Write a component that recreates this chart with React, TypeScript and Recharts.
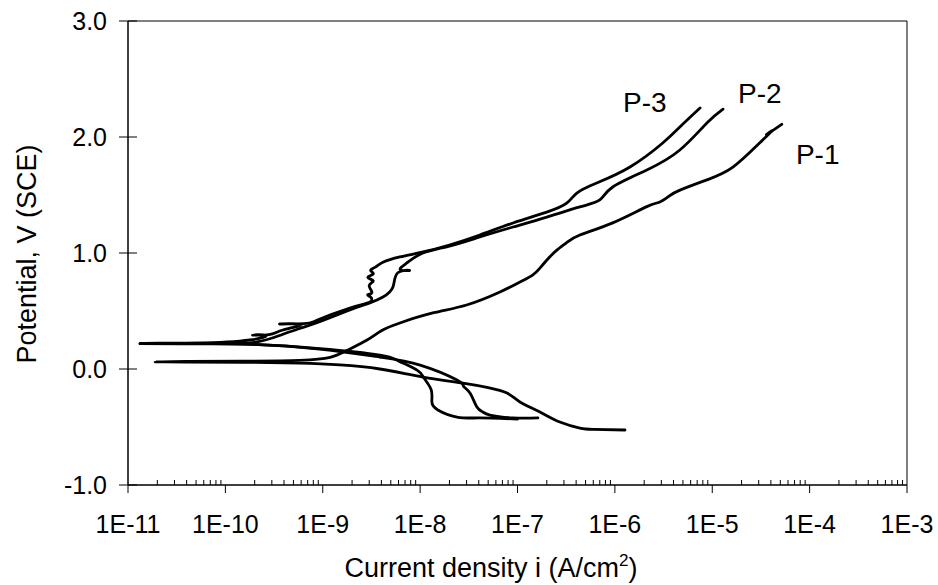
import React from "react";
import { ScatterChart, Scatter, XAxis, YAxis, ReferenceArea, ReferenceDot } from "recharts";

// ---- axis ticks ----
const xMajorTicks = [1e-11, 1e-10, 1e-9, 1e-8, 1e-7, 1e-6, 1e-5, 1e-4, 1e-3];
const xMajorLabels = ["1E-11", "1E-10", "1E-9", "1E-8", "1E-7", "1E-6", "1E-5", "1E-4", "1E-3"];
const minorMultipliers = [2, 3, 4, 5, 6, 7, 8, 9];
const yTicks = [-1, 0, 1, 2, 3];
const yTickLabels = ["-1.0", "0.0", "1.0", "2.0", "3.0"];

// ---- series: current density (A/cm2) and potential (V SCE), in scan order ----
const p1Current = [
  1.27e-6, 6.0e-7, 4.37e-7, 2.72e-7, 1.7e-7, 1.06e-7, 7.8e-8, 5.0e-8, 2.75e-8, 1.07e-8, 3.86e-9, 1.5e-9, 5.8e-10, 1.5e-10, 4e-11, 1.9e-11,
  4e-11, 1.5e-10, 5.8e-10, 1.19e-9, 1.77e-9, 2.85e-9, 4.0e-9, 6.2e-9, 1.35e-8, 3.0e-8, 6.6e-8, 1.06e-7, 1.43e-7, 1.7e-7, 2.06e-7,
  2.5e-7, 3.2e-7, 4.37e-7, 9.5e-7, 2.13e-6, 2.9e-6, 3.6e-6, 4.6e-6, 8.8e-6, 1.63e-5, 3.08e-5, 4.19e-5, 3.6e-5, 5.18e-5,
];
const p1Potential = [
  -0.526, -0.52, -0.509, -0.457, -0.371, -0.284, -0.207, -0.16, -0.121, -0.069, 0.0, 0.035, 0.05, 0.058, 0.06, 0.062,
  0.066, 0.068, 0.075, 0.1, 0.16, 0.25, 0.33, 0.397, 0.483, 0.552, 0.664, 0.75, 0.81, 0.87, 0.95,
  1.02, 1.09, 1.155, 1.26, 1.4, 1.44, 1.49, 1.54, 1.63, 1.74, 1.95, 2.06, 2.02, 2.11,
];

const p2Current = [
  1.62e-7, 9e-8, 5.2e-8, 4.4e-8, 3.83e-8, 3.25e-8, 2.8e-8, 2.39e-8, 1.0e-8, 3.86e-9, 9.3e-10, 1.9e-10, 5e-11, 1.33e-11,
  5e-11, 1.9e-10, 3.9e-10, 8.7e-10, 1.9e-9, 3.05e-9, 4.15e-9, 5.26e-9, 5.9e-9, 7.8e-9, 6.3e-9, 7.3e-9, 1.07e-8, 2.0e-8,
  4.1e-8, 9e-8, 2e-7, 4.37e-7, 7.0e-7, 9.5e-7, 2.13e-6, 4.65e-6, 8.8e-6, 1.29e-5,
];
const p2Potential = [
  -0.422, -0.422, -0.397, -0.37, -0.328, -0.207, -0.15, -0.095, 0.034, 0.103, 0.172, 0.213, 0.218, 0.22,
  0.222, 0.228, 0.3, 0.4, 0.51, 0.57, 0.62, 0.707, 0.83, 0.85, 0.855, 0.914, 1.0, 1.06,
  1.138, 1.224, 1.31, 1.397, 1.457, 1.569, 1.716, 1.888, 2.12, 2.24,
];

const p3Current = [
  1.0e-7, 4.1e-8, 2.39e-8, 1.52e-8, 1.32e-8, 1.3e-8, 1.1e-8, 9.3e-9, 6e-9, 3.86e-9, 9.3e-10, 1.9e-10, 5e-11, 1.33e-11,
  5e-11, 1.79e-10, 2.6e-10, 1.9e-10, 2.8e-10, 3.9e-10, 6.0e-10, 3.6e-10, 6.4e-10, 8.7e-10, 1.9e-9, 3.05e-9,
  3.1e-9, 2.9e-9, 3.2e-9, 3.0e-9, 3.3e-9, 2.9e-9, 3.3e-9, 3.1e-9, 3.5e-9, 4.15e-9, 6.2e-9, 1.07e-8, 2.0e-8,
  4.1e-8, 9e-8, 2e-7, 3.2e-7, 4.07e-7, 6.5e-7, 1.43e-6, 3.1e-6, 4.65e-6, 7.5e-6,
];
const p3Potential = [
  -0.431, -0.422, -0.414, -0.353, -0.284, -0.18, -0.08, -0.01, 0.07, 0.12, 0.175, 0.212, 0.216, 0.218,
  0.222, 0.25, 0.29, 0.293, 0.297, 0.336, 0.385, 0.388, 0.392, 0.42, 0.526, 0.578,
  0.62, 0.64, 0.66, 0.72, 0.76, 0.79, 0.82, 0.85, 0.88, 0.92, 0.966, 1.009, 1.069,
  1.155, 1.259, 1.353, 1.43, 1.517, 1.603, 1.741, 1.948, 2.086, 2.25,
];

// ---- curve labels ----
const curveLabels = ["P-3", "P-2", "P-1"];
const curveLabelCurrent = [2.03e-6, 3.08e-5, 1.21e-4];
const curveLabelPotential = [2.3, 2.38, 1.85];

const FONT = "'Liberation Sans', Arial, sans-serif";

const toPoints = (xs: number[], ys: number[]) => xs.map((x, i) => ({ x, y: ys[i] }));
const p1 = toPoints(p1Current, p1Potential);
const p2 = toPoints(p2Current, p2Potential);
const p3 = toPoints(p3Current, p3Potential);

const allXTicks: number[] = [];
xMajorTicks.forEach((m, i) => {
  allXTicks.push(m);
  if (i < xMajorTicks.length - 1) minorMultipliers.forEach((k) => allXTicks.push(m * k));
});

const XTick = (props: any) => {
  const { x, y, payload } = props;
  const idx = xMajorTicks.indexOf(payload.value);
  if (idx >= 0) {
    return (
      <g>
        <line x1={x} x2={x} y1={y} y2={y + 8} stroke="#000" strokeWidth={1} />
        <text x={x} y={y + 48} textAnchor="middle" fontSize={25} fontFamily={FONT} fill="#000">
          {xMajorLabels[idx]}
        </text>
      </g>
    );
  }
  return <line x1={x} x2={x} y1={y} y2={y - 5} stroke="#000" strokeWidth={1} />;
};

const YTick = (props: any) => {
  const { x, y, payload } = props;
  const idx = yTicks.indexOf(payload.value);
  return (
    <g>
      <line x1={x - 9} x2={x + 9} y1={y} y2={y} stroke="#000" strokeWidth={1} />
      <text x={x - 21} y={y + 9} textAnchor="end" fontSize={25} fontFamily={FONT} fill="#000">
        {yTickLabels[idx]}
      </text>
    </g>
  );
};

const NoShape = () => <g />;
const lineStyle = { stroke: "#000", strokeWidth: 2.8, strokeLinejoin: "round" as const, strokeLinecap: "round" as const };

export default function App() {
  return (
    <div>
      <style>{`body{margin:0;}`}</style>
      <ScatterChart width={938} height={585} margin={{ top: 21, right: 31, left: 0, bottom: 0 }}>
        <XAxis
          type="number"
          dataKey="x"
          scale="log"
          domain={[1e-11, 1e-3]}
          allowDataOverflow
          ticks={allXTicks}
          interval={0}
          tick={<XTick />}
          tickLine={false}
          tickSize={0}
          tickMargin={0}
          height={100}
          axisLine={{ stroke: "#000", strokeWidth: 1 }}
          label={() => (
            <text x={491} y={577} textAnchor="middle" fontSize={27} fontFamily={FONT} fill="#000">
              Current density i (A/cm<tspan dy={-11} fontSize={17}>2</tspan><tspan dy={11}>)</tspan>
            </text>
          )}
        />
        <YAxis
          type="number"
          dataKey="y"
          domain={[-1, 3]}
          allowDataOverflow
          ticks={yTicks}
          interval={0}
          tick={<YTick />}
          tickLine={false}
          tickSize={0}
          tickMargin={0}
          width={128}
          axisLine={{ stroke: "#000", strokeWidth: 1 }}
          label={() => (
            <text
              x={36}
              y={254}
              transform="rotate(-90 36 254)"
              textAnchor="middle"
              fontSize={27}
              fontFamily={FONT}
              fill="#000"
            >
              Potential, V (SCE)
            </text>
          )}
        />
        <ReferenceArea x1={1e-11} x2={1e-3} y1={-1} y2={3} fill="none" stroke="#000" strokeWidth={1} ifOverflow="visible" />
        <Scatter data={p1} line={lineStyle} lineJointType="natural" shape={<NoShape />} isAnimationActive={false} />
        <Scatter data={p2} line={lineStyle} lineJointType="natural" shape={<NoShape />} isAnimationActive={false} />
        <Scatter data={p3} line={lineStyle} lineJointType="natural" shape={<NoShape />} isAnimationActive={false} />
        {curveLabels.map((t, i) => (
          <ReferenceDot
            key={t}
            x={curveLabelCurrent[i]}
            y={curveLabelPotential[i]}
            r={0}
            ifOverflow="visible"
            label={{ value: t, position: "center", fontSize: 28, fontFamily: FONT, fill: "#000" }}
          />
        ))}
      </ScatterChart>
    </div>
  );
}
